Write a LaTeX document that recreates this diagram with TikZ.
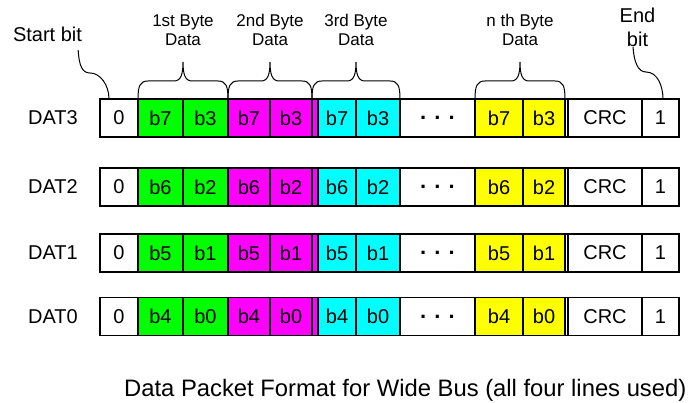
\documentclass[tikz,border=0pt]{standalone}
\usepackage{fontspec}
\setmainfont{Liberation Sans}
\usepackage{xcolor}
\usepackage{tikz}
\usetikzlibrary{positioning, calc}
\definecolor{bytea}{RGB}{0, 255, 0}
\definecolor{byteb}{RGB}{255, 0, 255}
\definecolor{bytec}{RGB}{0, 255, 255}
\definecolor{byten}{RGB}{255, 255, 0}

% curly brace over one byte, label on its tip
\newcommand{\bytebrace}[3]{%
    \draw[brace] let \p1=(#1.north west), \p2=(#2.north east), \n1={(\x1+\x2)/2} in
        (\p1) .. controls +(0,13) and +(-8,0) .. (\x1+10pt,\y1+18pt)
        -- (\n1-9pt,\y1+18pt) .. controls +(7,0) and +(0,-12) .. (\n1,\y1+37pt)
        node[bytelbl] {#3 Byte\\Data}
        .. controls +(0,-12) and +(-7,0) .. (\n1+9pt,\y1+18pt)
        -- (\x2-10pt,\y1+18pt) .. controls +(8,0) and +(0,13) .. (\p2);
}

\begin{document}
\begin{tikzpicture}[
        x=1pt, y=1pt,
        cell/.style={rectangle, draw=black, fill=#1, line width=1.5pt, minimum height=38pt, inner sep=0pt, outer sep=0pt, font=\fontsize{20}{24}\selectfont},
        cell/.default=white,
        rowlbl/.style={inner sep=0pt, font=\fontsize{20}{24}\selectfont},
        bytelbl/.style={above=16pt, inner sep=0pt, text depth=0pt, align=center, font=\fontsize{17}{18.5}\selectfont},
        brace/.style={line width=1pt, black},
        leader/.style={line width=1pt, black}
    ]
    \useasboundingbox (0,0) rectangle (688,402);

    \foreach \r/\yy/\hi/\lo in {3/284/7/3, 2/215/6/2, 1/149/5/1, 0/85.5/4/0} {
        \node[rowlbl] (lbl\r) at (53,\yy) {DAT\r};
        \node[cell, minimum width=38pt] (s\r) at (119,\yy) {0};
        \node[cell=bytea, minimum width=45pt, right=0pt of s\r] (ga\r) {b\hi};
        \node[cell=bytea, minimum width=45pt, right=0pt of ga\r] (gb\r) {b\lo};
        \node[cell=byteb, minimum width=42pt, right=0pt of gb\r] (ma\r) {b\hi};
        \node[cell=byteb, minimum width=42pt, right=0pt of ma\r] (mb\r) {b\lo};
        \node[cell=byteb, minimum width=6pt, right=0pt of mb\r] (mx\r) {};
        \node[cell=bytec, minimum width=38pt, right=0pt of mx\r] (ca\r) {b\hi};
        \node[cell=bytec, minimum width=44pt, right=0pt of ca\r] (cb\r) {b\lo};
        \node[cell, minimum width=75pt, right=0pt of cb\r] (dots\r) {\fontsize{22}{24}\bfseries . . .};
        \node[cell=byten, minimum width=48pt, right=0pt of dots\r] (ya\r) {b\hi};
        \node[cell=byten, minimum width=42pt, right=0pt of ya\r] (yb\r) {b\lo};
        \node[cell, minimum width=3pt, right=0pt of yb\r] (gap\r) {};
        \node[cell, minimum width=74pt, right=0pt of gap\r] (crc\r) {CRC};
        \node[cell, minimum width=37pt, right=0pt of crc\r] (e\r) {1};
    }

    \bytebrace{ga3}{gb3}{1st}
    \bytebrace{ma3}{mb3}{2nd}
    \bytebrace{mx3}{cb3}{3rd}
    \bytebrace{ya3}{yb3}{n th}

    \node[rowlbl, anchor=base] (startlbl) at (47.5,360) {Start bit};
    \node[rowlbl, anchor=south, text depth=0pt, align=center] (endlbl) at (637.5,355) {End\\bit};

    \draw[leader] ([shift={(-4pt,-8pt)}]startlbl.base east) .. controls +(1,-16) and +(-8,0) .. ++(12,-23)
        .. controls +(10,0) and +(0,14) .. ([xshift=9pt]s3.north west);
    \draw[leader] ([xshift=-4.5pt]endlbl.south) .. controls +(1,-15) and +(-8,0) .. ++(13,-25)
        .. controls +(12,0) and +(0,12) .. ([xshift=21pt]e3.north west);

    \node[anchor=base west, inner sep=0pt, font=\fontsize{23.8}{28}\selectfont] (caption) at (124,6) {Data Packet Format for Wide Bus (all four lines used)};
\end{tikzpicture}
\end{document}
